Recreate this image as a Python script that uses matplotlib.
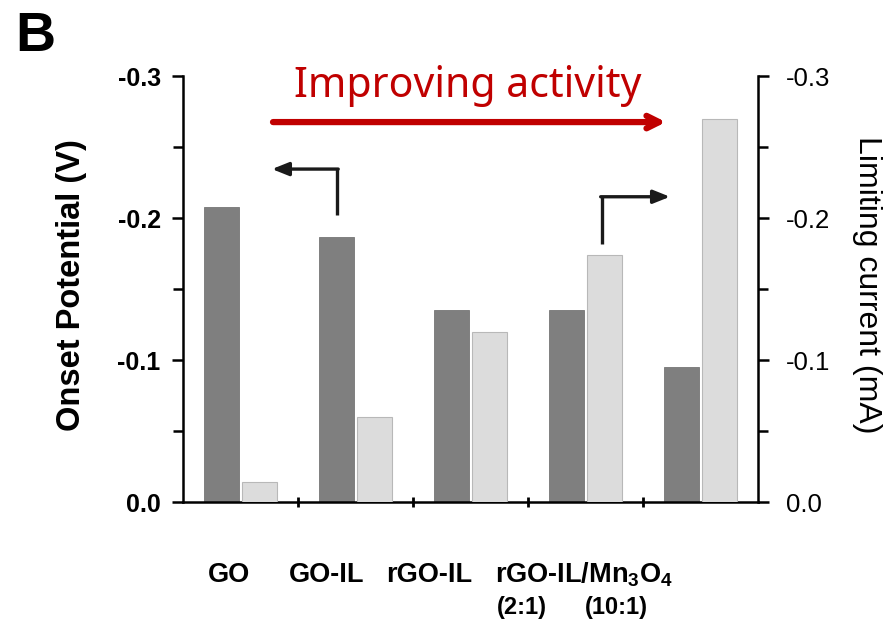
import matplotlib.pyplot as plt
import numpy as np
from matplotlib.ticker import MultipleLocator, FormatStrFormatter

plt.rcParams['font.family'] = ['Liberation Sans', 'DejaVu Sans']
plt.rcParams['mathtext.fontset'] = 'custom'
plt.rcParams['mathtext.bf'] = 'Liberation Sans:bold'
plt.rcParams['mathtext.rm'] = 'Liberation Sans:bold'

samples = ['GO', 'GO-IL', 'rGO-IL', 'rGO-IL/Mn$_\\mathbf{3}$O$_\\mathbf{4}$']
ratios = ['(2:1)', '(10:1)']
onset = [-0.208, -0.187, -0.135, -0.135, -0.095]      # V
current = [-0.014, -0.060, -0.120, -0.174, -0.270]    # mA

dark = '#7f7f7f'
light = '#dcdcdc'

fig = plt.figure(figsize=(8.86, 6.2), dpi=100, facecolor='white')
ax = fig.add_axes([0.2065, 0.1903, 0.649, 0.687])
ax2 = ax.twinx()

x = np.arange(len(onset))
w = 0.30
ax.bar(x - 0.165, onset, w, color=dark, edgecolor='#767676', linewidth=0.6, zorder=2)
ax2.bar(x + 0.165, current, w, color=light, edgecolor='#b8b8b8', linewidth=0.8, zorder=2)

for a in (ax, ax2):
    a.set_xlim(-0.5, 4.5)
    a.set_ylim(0, -0.3)
    a.yaxis.set_major_locator(MultipleLocator(0.1))
    a.yaxis.set_minor_locator(MultipleLocator(0.05))
    a.yaxis.set_major_formatter(FormatStrFormatter('%.1f'))
    a.spines['top'].set_visible(False)
    for s in a.spines.values():
        s.set_linewidth(1.8)
    a.tick_params(axis='y', which='major', length=8, width=1.8, direction='out')
    a.tick_params(axis='y', which='minor', length=7, width=1.8, direction='out')

ax.spines['right'].set_visible(False)
ax2.spines['left'].set_visible(False)
ax2.spines['bottom'].set_visible(False)

ax.tick_params(axis='y', labelsize=18, pad=8)
for lbl in ax.get_yticklabels():
    lbl.set_fontweight('bold')
ax2.tick_params(axis='y', labelsize=18.5, pad=12)

# category boundaries on the x axis
ax.set_xticks([0.5, 1.5, 2.5, 3.5])
ax.set_xticklabels([])
ax.tick_params(axis='x', length=7, width=2, direction='inout')

ax.set_ylabel('Onset Potential (V)', fontsize=23.5, fontweight='bold', va='center')
ax.yaxis.set_label_coords(-0.193, 0.51)
ax2.set_ylabel('Limiting current (mA)', fontsize=23, rotation=270, va='center')
ax2.yaxis.set_label_coords(1.19, 0.51)

# sample names below the axis
trans = ax.get_xaxis_transform()
for xp, s in zip([-0.1, 0.752, 1.64, 2.99], samples):
    ax.text(xp, -0.188, s, transform=trans, ha='center', va='baseline',
            fontsize=19.5, fontweight='bold')
for xp, s in zip([2.45, 3.27], ratios):
    ax.text(xp, -0.262, s, transform=trans, ha='center', va='baseline',
            fontsize=17, fontweight='bold')

# trend arrow
ax.annotate('', xy=(3.70, -0.2676), xytext=(0.283, -0.2676),
            arrowprops=dict(arrowstyle='->,head_length=0.9,head_width=0.45',
                            color='#c00000', lw=4.5, shrinkA=0, shrinkB=0))
ax.text(1.98, -0.285, 'Improving activity', color='#c00000', fontsize=29.5,
        ha='center', va='baseline', family=['Noto Sans', 'DejaVu Sans'])

# axis pointers
ax.plot([0.839, 0.839], [-0.202, -0.2345], color='#1a1a1a', lw=2.4, solid_capstyle='butt')
ax.annotate('', xy=(0.274, -0.2345), xytext=(0.85, -0.2345),
            arrowprops=dict(arrowstyle='-|>,head_length=1.0,head_width=0.4',
                            color='#1a1a1a', lw=2.4, shrinkA=0, shrinkB=0))
ax.plot([3.143, 3.143], [-0.182, -0.215], color='#1a1a1a', lw=2.4, solid_capstyle='butt')
ax.annotate('', xy=(3.735, -0.215), xytext=(3.132, -0.215),
            arrowprops=dict(arrowstyle='-|>,head_length=1.0,head_width=0.4',
                            color='#1a1a1a', lw=2.4, shrinkA=0, shrinkB=0))

fig.text(0.017, 0.917, 'B', fontsize=40, fontweight='bold', va='baseline')

fig.savefig('out.png', dpi=100)
